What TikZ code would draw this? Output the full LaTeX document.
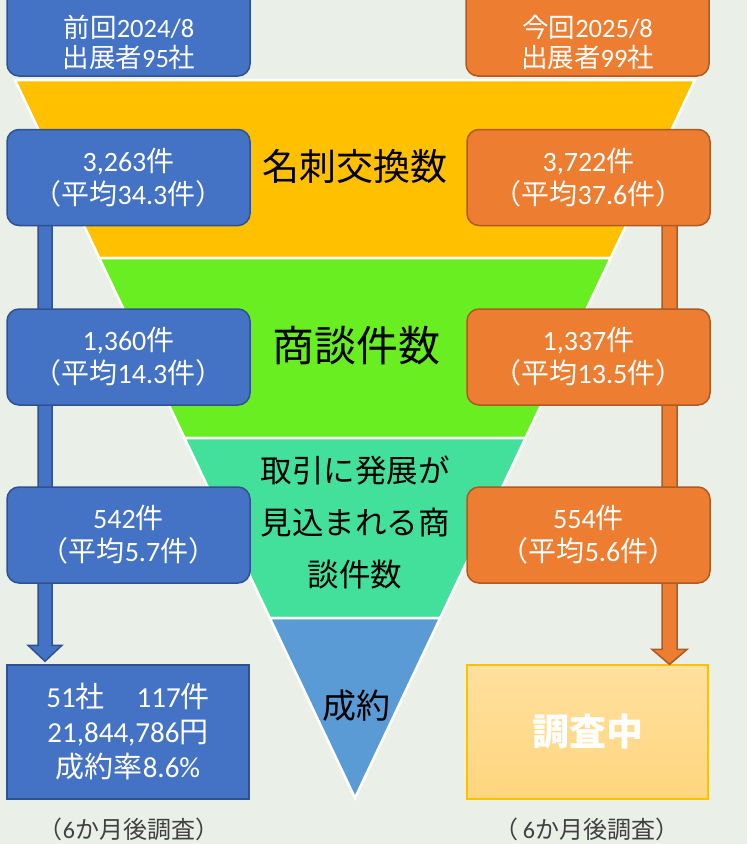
\documentclass[tikz,border=0pt]{standalone}
\usepackage{fontspec}
\setmainfont{Carlito}
\newfontfamily\jp{Noto Sans CJK JP}
\usetikzlibrary{calc}
\definecolor{bg}{HTML}{EAEFE8}
\definecolor{pblue}{HTML}{4472C4}
\definecolor{pblueD}{HTML}{2F528F}
\definecolor{porange}{HTML}{ED7D31}
\definecolor{porangeD}{HTML}{AE5A21}
\definecolor{fyellow}{HTML}{FFC000}
\definecolor{fgreen}{HTML}{69EE22}
\definecolor{fteal}{HTML}{42E09A}
\definecolor{fblue}{HTML}{5B9BD5}
\definecolor{capc}{HTML}{404040}
\definecolor{ltop}{HTML}{FFE09E}
\definecolor{lbot}{HTML}{FFD67E}
\tikzset{
  sidebox/.style={rounded corners=12pt, line width=1.5pt, minimum width=243pt, minimum height=96pt,
    text=white, align=center, font=\fontsize{28}{33}\selectfont, inner sep=0pt},
  bbox/.style={sidebox, fill=pblue, draw=pblueD},
  obox/.style={sidebox, fill=porange, draw=porangeD},
  level/.style={draw=white, line width=2.5pt, line join=miter},
  ftext/.style={text=black, align=center, inner sep=0pt},
  boxtext/.style={text=white, align=center, inner sep=0pt, font=\fontsize{26.5}{30}\selectfont},
  caption/.style={text=capc, inner sep=0pt, font=\fontsize{24}{28}\selectfont},
  barrow/.style={fill=pblue, draw=pblueD, line width=1.5pt, line join=miter},
  oarrow/.style={fill=porange, draw=porangeD, line width=1.5pt, line join=miter}
}
\begin{document}
\begin{tikzpicture}[x=1pt,y=-1pt]
\useasboundingbox (0,0) rectangle (747,844);
\clip (0,0) rectangle (747,844);
\fill[bg] (0,0) rectangle (747,844);

% funnel levels
\path[level, fill=fyellow] (15,80) -- (695,80) -- (610.7,258) -- (99.3,258) -- cycle;
\path[level, fill=fgreen] (99.3,258) -- (610.7,258) -- (525.5,438) -- (184.5,438) -- cycle;
\path[level, fill=fteal] (184.5,438) -- (525.5,438) -- (440.2,618) -- (269.8,618) -- cycle;
\path[level, fill=fblue] (269.8,618) -- (440.2,618) -- (355,798) -- cycle;

\node[ftext, font=\fontsize{37}{40}\selectfont] (f1) at (355,166) {\jp 名刺交換数};
\node[ftext, font=\fontsize{42}{46}\selectfont] (f2) at (356,346) {\jp 商談件数};
\node[ftext, font=\fontsize{31.5}{52}\selectfont] (f3) at (355,522) {\jp 取引に発展が\\\jp 見込まれる商\\\jp 談件数};
\node[ftext, font=\fontsize{34}{38}\selectfont] (f4) at (356,706) {\jp 成約};

% top boxes
\node[bbox, minimum height=88pt] (lt) at (128.5,32) {};
\node[boxtext] (ltt) at (129,42) {{\jp 前回}2024/8\\{\jp 出展者}95{\jp 社}};
\node[obox, minimum height=88pt] (rt) at (587.5,32) {};
\node[boxtext] (rtt) at (587.5,42) {{\jp 今回}2025/8\\{\jp 出展者}99{\jp 社}};

% result boxes
\node[rectangle, fill=pblue, draw=pblueD, line width=1.5pt, minimum width=242pt, minimum height=134pt,
  text=white, align=center, inner sep=0pt, font=\fontsize{29}{35}\selectfont] (lres) at (128,732)
  {51{\jp 社}\hspace{1.1em}117{\jp 件}\\21,844,786{\jp 円}\\{\jp 成約率}8.6\%};
\node[rectangle, top color=ltop, bottom color=lbot, draw=fyellow, line width=1.2pt, minimum width=241pt,
  minimum height=134pt, text=white, inner sep=0pt, font=\fontsize{37}{40}\selectfont] (rres) at (587.5,732)
  {\jp\bfseries 調査中};

% arrows
\coordinate (la1) at ([xshift=-83pt, yshift=3pt]lres.north);
\coordinate (ra1) at ([xshift=82pt]rres.north);
\node[inner sep=0pt] (la0) at (la1 |- 0,222) {};
\node[inner sep=0pt] (ra0) at (ra1 |- 0,222) {};
\path[barrow] ($(la0)+(-7,0)$) -- ($(la1)+(-7,-16)$) -- ($(la1)+(-17,-16)$) -- (la1)
  -- ($(la1)+(17,-16)$) -- ($(la1)+(7,-16)$) -- ($(la0)+(7,0)$) -- cycle;
\path[oarrow] ($(ra0)+(-7.5,0)$) -- ($(ra1)+(-7.5,-15)$) -- ($(ra1)+(-17.5,-15)$) -- (ra1)
  -- ($(ra1)+(17.5,-15)$) -- ($(ra1)+(7.5,-15)$) -- ($(ra0)+(7.5,0)$) -- cycle;

% side boxes
\node[bbox] (lb1) at (128.5,177.5) {3,263{\jp 件}\\{\jp （平均}34.3{\jp 件）}};
\node[bbox] (lb2) at (128.5,357) {1,360{\jp 件}\\{\jp （平均}14.3{\jp 件）}};
\node[bbox] (lb3) at (128.5,535) {542{\jp 件}\\{\jp （平均}5.7{\jp 件）}};
\node[obox] (rb1) at (588.5,177.5) {3,722{\jp 件}\\{\jp （平均}37.6{\jp 件）}};
\node[obox] (rb2) at (588.5,357) {1,337{\jp 件}\\{\jp （平均}13.5{\jp 件）}};
\node[obox] (rb3) at (588.5,535) {554{\jp 件}\\{\jp （平均}5.6{\jp 件）}};

% captions
\node[caption] (lc) at (129,829) {{\jp （}6{\jp か月後調査）}};
\node[caption] (rc) at (587,829) {{\jp （}\,6{\jp か月後調査）}};
\end{tikzpicture}
\end{document}
